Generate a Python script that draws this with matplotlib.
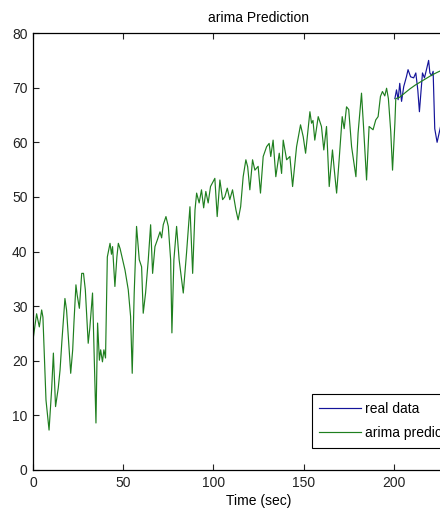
import matplotlib
matplotlib.use('Agg')
import matplotlib.pyplot as plt

# past series + forecast (green)
arima_x = [0, 2, 3.5, 4.8, 5.5, 7.2, 8.9, 10.3, 11.3, 12.5, 14, 15, 16, 17.7, 18.6,
           20.9, 22, 22.7, 23.8, 24.5, 25.7, 27, 28, 29, 30.6, 31.5, 33, 34, 34.9,
           35.8, 36.8, 37.5, 38.5, 39.3, 40.2, 41.2, 42.7, 43.5, 44.1, 45.4, 46.5,
           47.3, 48.3, 49.7, 51, 52.8, 54.1, 55, 56.1, 57.4, 58.9, 60.2, 61.1, 62.4,
           63.9, 65.2, 66.3, 67.6, 68.9, 70.4, 71.3, 72.2, 73.7, 75, 76.3, 77, 78.1,
           79.6, 81, 83.3, 85.1, 87, 88.5, 89.8, 90.7, 92.1, 93.4, 94.6, 95.8, 97.1,
           98.4, 100.8, 102.1, 103.6, 105.1, 106.3, 107.7, 109.1, 110.6, 112.5,
           113.7, 115.1, 116.5, 118, 119, 120.2, 121.7, 123, 124.8, 126.1, 127.6,
           129.5, 130.9, 131.8, 133.1, 134.6, 136.5, 137.8, 138.7, 140.6, 142.4,
           143.9, 146.1, 148.3, 149.8, 151.1, 153.5, 154.4, 155.2, 156.2, 158.1,
           159.9, 161.2, 162.7, 164.2, 166, 167, 168.3, 169.7, 171.4, 172.5, 173.8,
           175, 176.6, 179, 180.2, 182.1, 183.2, 184.9, 186.3, 188.5, 190, 191.3,
           192.6, 193.7, 195, 196, 197, 198.3, 199.3, 200.6, 201.1,
           203, 206, 209, 212, 215, 218, 221, 224, 228]
arima_y = [23.8, 28.6, 26.2, 29.3, 28, 12.8, 7.3, 14.6, 21.4, 11.6, 15, 18.3, 23.5, 31.4,
           29.3, 17.7, 22, 27, 33.9, 32, 29.6, 36, 36, 33, 23.2, 26, 32.4, 20, 8.6,
           26.9, 20.1, 22, 19.8, 22, 20.5, 39, 41.5, 39.5, 40.9, 33.6, 39, 41.5,
           40.5, 38.5, 36.6, 33, 28.1, 17.7, 32.4, 44.6, 38.5, 37.2, 28.7, 32.4,
           38.5, 44.9, 36, 40.9, 42.1, 43.6, 42.5, 44.9, 46.4, 44.6, 38.5, 25.1,
           38.5, 44.6, 38.5, 32.4, 39.7, 48.2, 36, 47.6, 50.7, 48.9, 51.3, 48,
           51, 48.9, 51.9, 53.4, 46.4, 53.1, 49.5, 50, 51.6, 49.5, 51.3, 47.6,
           45.8, 48.2, 53.7, 56.8, 55.5, 51.3, 56.8, 54.9, 55.6, 50.7, 57.4, 59.2,
           59.8, 57.4, 60.4, 53.7, 58, 54.3, 60.4, 56.8, 57.4, 51.9, 59.2, 63.2,
           61, 58, 65.6, 63.5, 64, 60.4, 64.7, 62.9, 58.6, 62.9, 51.9, 58.6, 55,
           50.7, 56.8, 64.7, 62.5, 66.5, 66, 59.2, 53.7, 61.7, 69, 63, 53.1, 62.9,
           62.3, 64.1, 64.7, 68.4, 69.3, 68.5, 69.9, 68, 62, 54.9, 63.5, 68,
           68.2, 69.0, 69.8, 70.5, 71.1, 71.7, 72.3, 72.8, 73.4]

# real data after t = 200 (blue)
real_x = [200.6, 201.5, 202.4, 203.3, 204.3, 205.5, 207, 207.9, 209.3, 211, 212.2,
          213.3, 214.2, 215, 215.9, 217, 218.1, 219.3, 220, 221, 221.8, 222.7, 224, 226]
real_y = [68, 69.6, 67.8, 70.8, 67.5, 70.2, 72, 73.3, 72, 71.8, 72.7,
          69.6, 65.6, 69, 72.7, 71.8, 73.3, 75, 72.7, 72.2, 73, 62.5, 60, 63]

xticks = [0, 50, 100, 150, 200, 250]
xtick_labels = ['0', '50', '100', '150', '200', '']
yticks = [0, 10, 20, 30, 40, 50, 60, 70, 80]

plt.rcParams['font.family'] = ['Liberation Sans', 'DejaVu Sans']
fs = 10

fig = plt.figure(figsize=(4.4, 5.17), dpi=100)
ax = fig.add_axes([0.075, 0.091, 1.025, 0.845])

ax.plot(real_x, real_y, color='#14149a', lw=0.85, label='real data')
ax.plot(arima_x, arima_y, color='#1f7f1f', lw=0.85, label='arima prediction')

ax.set_xlim(0, 250)
ax.set_ylim(0, 80)
ax.set_xticks(xticks)
ax.set_xticklabels(xtick_labels)
ax.set_yticks(yticks)
ax.tick_params(direction='in', length=4, width=0.8, top=True, right=True, pad=4,
               labelsize=fs, colors='#222222')
for s in ax.spines.values():
    s.set_linewidth(0.9)

ax.set_title('arima Prediction', fontsize=fs, pad=8)
ax.set_xlabel('Time (sec)', fontsize=fs, labelpad=3)

leg = ax.legend(loc='upper left', bbox_to_anchor=(0.618, 0.174), borderaxespad=0,
                fancybox=False, framealpha=1, edgecolor='black',
                handlelength=3.0, handletextpad=0.3, borderpad=0.55,
                labelspacing=0.75, fontsize=fs)
leg.get_frame().set_linewidth(0.8)

fig.savefig('out.png', dpi=100)
